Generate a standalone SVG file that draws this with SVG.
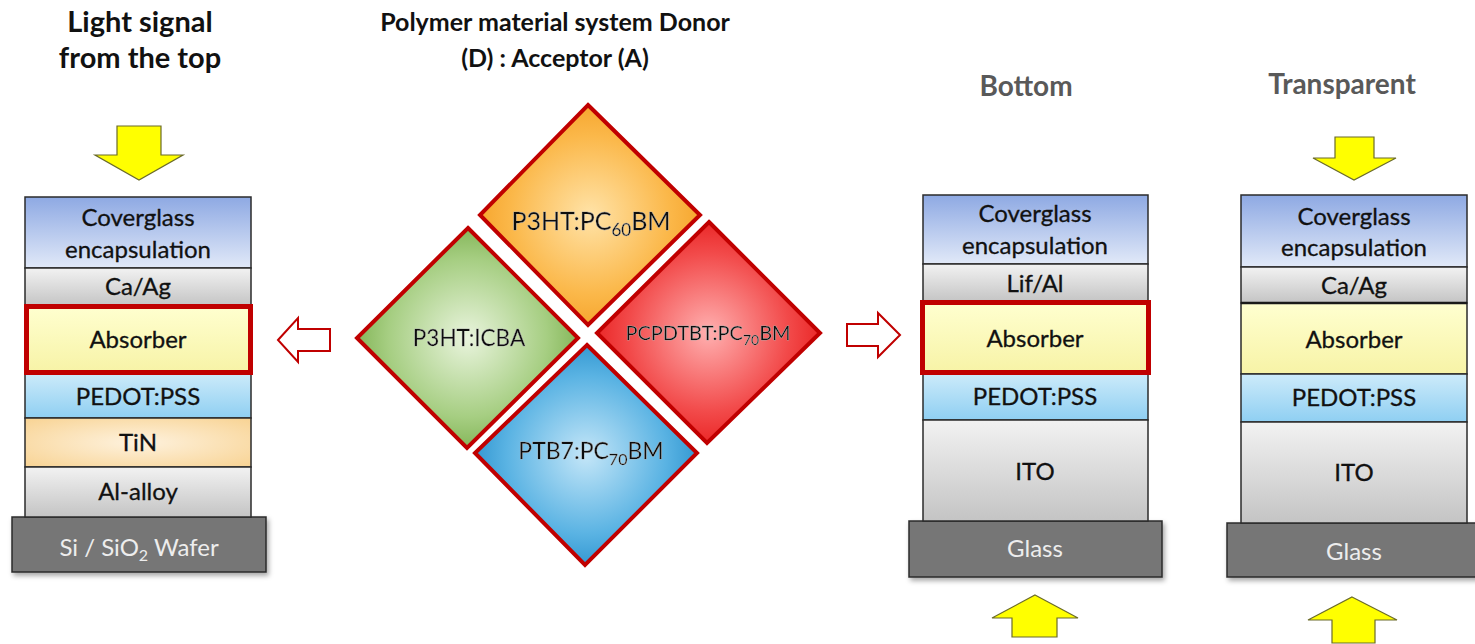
<svg xmlns="http://www.w3.org/2000/svg" width="1475" height="644" viewBox="0 0 1475 644">
<defs>
<linearGradient id="gCover" x1="0" y1="0" x2="0" y2="1"><stop offset="0" stop-color="#8EA9E3"/><stop offset="1" stop-color="#E1E9F8"/></linearGradient>
<linearGradient id="gGray" x1="0" y1="0" x2="0" y2="1"><stop offset="0" stop-color="#F2F2F2"/><stop offset="1" stop-color="#C4C4C4"/></linearGradient>
<linearGradient id="gAbs" x1="0" y1="0" x2="0" y2="1"><stop offset="0" stop-color="#FFFFD0"/><stop offset="1" stop-color="#F7F3A6"/></linearGradient>
<linearGradient id="gPed" x1="0" y1="0" x2="0" y2="1"><stop offset="0" stop-color="#CDEBFA"/><stop offset="1" stop-color="#8FCFF2"/></linearGradient>
<radialGradient id="gTiN" cx="0.5" cy="0.5" r="0.7"><stop offset="0" stop-color="#FEF2DE"/><stop offset="1" stop-color="#F8D393"/></radialGradient>
<radialGradient id="gOr" cx="0.5" cy="0.5" r="0.6"><stop offset="0" stop-color="#FFE3A8"/><stop offset="0.6" stop-color="#FBB84A"/><stop offset="1" stop-color="#F39A1C"/></radialGradient>
<radialGradient id="gGr" cx="0.5" cy="0.5" r="0.6"><stop offset="0" stop-color="#E9F4DD"/><stop offset="0.6" stop-color="#A6CE82"/><stop offset="1" stop-color="#6EA63E"/></radialGradient>
<radialGradient id="gRd" cx="0.5" cy="0.5" r="0.6"><stop offset="0" stop-color="#FFB0B0"/><stop offset="0.6" stop-color="#F24A4A"/><stop offset="1" stop-color="#E51010"/></radialGradient>
<radialGradient id="gBl" cx="0.5" cy="0.5" r="0.6"><stop offset="0" stop-color="#C4E6F8"/><stop offset="0.6" stop-color="#5AB3E3"/><stop offset="1" stop-color="#1A86C6"/></radialGradient>
<filter id="sh" x="-10%" y="-10%" width="130%" height="140%"><feDropShadow dx="2" dy="3" stdDeviation="2.5" flood-color="#000" flood-opacity="0.35"/></filter>
<filter id="glow" x="-10%" y="-30%" width="120%" height="160%"><feGaussianBlur in="SourceAlpha" stdDeviation="2"/><feFlood flood-color="#fff" flood-opacity="0.8"/><feComposite operator="in" in2="SourceGraphic"/><feMerge><feMergeNode/><feMergeNode in="SourceGraphic"/></feMerge></filter>
</defs>
<style>
.t{font-family:Lato,"Open Sans","Liberation Sans",sans-serif;font-size:24px;fill:#111;stroke:#111;stroke-width:0.3;text-anchor:middle}
.w{font-family:Lato,"Open Sans","Liberation Sans",sans-serif;font-size:24px;fill:#EDEDED;text-anchor:middle}
.h{font-family:Lato,"Open Sans","Liberation Sans",sans-serif;font-weight:bold;fill:#111;text-anchor:middle}
.hg{font-family:Lato,"Open Sans","Liberation Sans",sans-serif;font-size:28px;font-weight:bold;fill:#595959;text-anchor:middle}
.d{font-family:Lato,"Open Sans","Liberation Sans",sans-serif;fill:#111;stroke:#111;stroke-width:0.3;text-anchor:middle}
.l{stroke:#2B2B2B;stroke-width:1.5}
.base{fill:#767676;stroke:#2B2B2B;stroke-width:1.5}
.abs{fill:none;stroke:#C00000;stroke-width:5}
.dia{stroke:#C00000;stroke-width:4;stroke-linejoin:miter}
.ya{fill:#FFFF00;stroke:#6B6B2A;stroke-width:1.2}
.ra{fill:#FFFFFF;stroke:#C00000;stroke-width:2}
</style>

<g id="titles">
<text class="h" x="140" y="32" font-size="29">Light signal</text>
<text class="h" x="140" y="68" font-size="29">from the top</text>
<text class="h" x="555" y="31" font-size="25">Polymer material system Donor</text>
<text class="h" x="555" y="67" font-size="25">(D) : Acceptor (A)</text>
<text class="hg" x="1026" y="96">Bottom</text>
<text class="hg" x="1342" y="94">Transparent</text>
</g>

<g id="stack-top">
<rect x="12" y="517" width="254" height="55" class="base" filter="url(#sh)"/>
<rect x="25" y="197" width="226" height="71" fill="url(#gCover)" class="l"/>
<rect x="25" y="268" width="226" height="38" fill="url(#gGray)" class="l"/>
<rect x="25" y="306" width="226" height="67" fill="url(#gAbs)" class="l"/>
<rect x="25" y="373" width="226" height="45" fill="url(#gPed)" class="l"/>
<rect x="25" y="418" width="226" height="49" fill="url(#gTiN)" class="l"/>
<rect x="25" y="467" width="226" height="50" fill="url(#gGray)" class="l"/>
<rect x="26.5" y="306.5" width="224" height="66" class="abs"/>
<text class="t" x="138" y="226">Coverglass</text>
<text class="t" x="138" y="258">encapsulation</text>
<text class="t" x="138" y="295">Ca/Ag</text>
<text class="t" x="138" y="348">Absorber</text>
<text class="t" x="138" y="405">PEDOT:PSS</text>
<text class="t" x="138" y="451">TiN</text>
<text class="t" x="138" y="500">Al-alloy</text>
<text class="w" x="139" y="556">Si / SiO<tspan font-size="16" dy="5">2</tspan><tspan dy="-5"> Wafer</tspan></text>
</g>

<g id="materials">
<g id="d-orange"><polygon points="588,105 700,215 588,325 480,215" fill="url(#gOr)" class="dia"/>
<text class="d" x="591" y="230" style="font-size:25px" filter="url(#glow)">P3HT:PC<tspan font-size="17" dy="6">60</tspan><tspan dy="-6">BM</tspan></text></g>
<g id="d-green"><polygon points="468,228 578,338 467,448 357,338" fill="url(#gGr)" class="dia"/>
<text class="d" x="469" y="346" style="font-size:22.5px" filter="url(#glow)">P3HT:ICBA</text></g>
<g id="d-red"><polygon points="709,222 820,333 707,443 597,333" fill="url(#gRd)" class="dia"/>
<text class="d" x="708" y="340" style="font-size:20px" filter="url(#glow)">PCPDTBT:PC<tspan font-size="14" dy="5">70</tspan><tspan dy="-5">BM</tspan></text></g>
<g id="d-blue"><polygon points="587,345 697,453 585,565 475,453" fill="url(#gBl)" class="dia"/>
<text class="d" x="591" y="459" style="font-size:23px" filter="url(#glow)">PTB7:PC<tspan font-size="16" dy="6">70</tspan><tspan dy="-6">BM</tspan></text></g>
</g>

<g id="stack-bottom">
<rect x="909" y="521" width="253" height="56" class="base" filter="url(#sh)"/>
<rect x="923" y="195" width="225" height="69" fill="url(#gCover)" class="l"/>
<rect x="923" y="264" width="225" height="38" fill="url(#gGray)" class="l"/>
<rect x="923" y="302" width="225" height="71" fill="url(#gAbs)" class="l"/>
<rect x="923" y="373" width="225" height="47" fill="url(#gPed)" class="l"/>
<rect x="923" y="420" width="225" height="101" fill="url(#gGray)" class="l"/>
<rect x="922.5" y="302.5" width="226" height="70" class="abs"/>
<text class="t" x="1035" y="222">Coverglass</text>
<text class="t" x="1035" y="254">encapsulation</text>
<text class="t" x="1035" y="292">Lif/Al</text>
<text class="t" x="1035" y="347">Absorber</text>
<text class="t" x="1035" y="405">PEDOT:PSS</text>
<text class="t" x="1035" y="480">ITO</text>
<text class="w" x="1035" y="557">Glass</text>
</g>

<g id="stack-transparent">
<rect x="1227" y="523" width="260" height="54" class="base" filter="url(#sh)"/>
<rect x="1241" y="195" width="226" height="72" fill="url(#gCover)" class="l"/>
<rect x="1241" y="267" width="226" height="36" fill="url(#gGray)" class="l"/>
<rect x="1241" y="303" width="226" height="71" fill="url(#gAbs)" class="l"/>
<rect x="1241" y="374" width="226" height="48" fill="url(#gPed)" class="l"/>
<rect x="1241" y="422" width="226" height="101" fill="url(#gGray)" class="l"/>
<line x1="1241" y1="303" x2="1467" y2="303" stroke="#1A1A1A" stroke-width="2.5"/>
<text class="t" x="1354" y="225">Coverglass</text>
<text class="t" x="1354" y="256">encapsulation</text>
<text class="t" x="1354" y="294">Ca/Ag</text>
<text class="t" x="1354" y="348">Absorber</text>
<text class="t" x="1354" y="406">PEDOT:PSS</text>
<text class="t" x="1354" y="481">ITO</text>
<text class="w" x="1354" y="560">Glass</text>
</g>

<g id="connectors">
<polygon class="ya" points="117,126 161,126 161,155 183,155 139,180 95,155 117,155"/>
<polygon class="ya" points="1335,137 1374,137 1374,158 1396,158 1354,180 1313,158 1335,158"/>
<polygon class="ya" points="1035,595 1078,618 1057,618 1057,637 1012,637 1012,618 992,618"/>
<polygon class="ya" points="1352,597 1397,620 1375,620 1375,643 1332,643 1332,620 1308,620"/>
<polygon class="ra" points="278,340 298,318 298,329 330,329 330,351 298,351 298,362"/>
<polygon class="ra" points="900,335 878,313 878,324 847,324 847,346 878,346 878,357"/>
</g>
</svg>
